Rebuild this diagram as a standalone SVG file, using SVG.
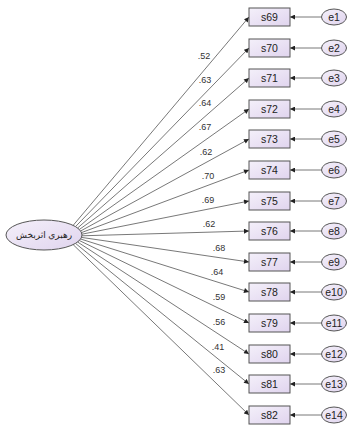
<svg xmlns="http://www.w3.org/2000/svg" width="347" height="429" viewBox="0 0 347 429">
<defs>
<linearGradient id="g" x1="0" y1="0" x2="1" y2="1">
<stop offset="0" stop-color="#f4f0fa"/>
<stop offset="1" stop-color="#e0d4ee"/>
</linearGradient>
<marker id="ah" viewBox="0 0 10 10" refX="10" refY="5" markerWidth="6" markerHeight="5" orient="auto" markerUnits="userSpaceOnUse">
<path d="M0,0 L10,5 L0,10 z" fill="#222"/>
</marker>
</defs>
<style>
.box{fill:url(#g);stroke:#555;stroke-width:1}
.ell{fill:url(#g);stroke:#555;stroke-width:1}
.t{font-family:"Liberation Sans",Arial,sans-serif;font-size:10.5px;fill:#222;text-anchor:middle}
.lt{font-family:"Liberation Sans","DejaVu Sans",Arial,sans-serif;font-size:9px;fill:#222;text-anchor:middle}
.c{font-family:"Liberation Sans",Arial,sans-serif;font-size:9px;fill:#333;text-anchor:middle}
.ln{stroke:#555;stroke-width:0.8;fill:none;marker-end:url(#ah)}
</style>
<rect width="347" height="429" fill="#fff"/>
<g id="connectors">
<line class="ln" x1="73.1" y1="225.4" x2="249" y2="17"/>
<line class="ln" x1="75.5" y1="226.6" x2="249" y2="48"/>
<line class="ln" x1="77.6" y1="228" x2="249" y2="78"/>
<line class="ln" x1="79.3" y1="229.5" x2="249" y2="109"/>
<line class="ln" x1="80.6" y1="231" x2="249" y2="139"/>
<line class="ln" x1="81.5" y1="232.6" x2="249" y2="170"/>
<line class="ln" x1="81.9" y1="234.2" x2="249" y2="201"/>
<line class="ln" x1="81.9" y1="235.8" x2="249" y2="231"/>
<line class="ln" x1="81.5" y1="237.4" x2="249" y2="262"/>
<line class="ln" x1="80.6" y1="239" x2="249" y2="292"/>
<line class="ln" x1="79.3" y1="240.5" x2="249" y2="323"/>
<line class="ln" x1="77.6" y1="242" x2="249" y2="354"/>
<line class="ln" x1="75.5" y1="243.4" x2="249" y2="384"/>
<line class="ln" x1="73.1" y1="244.6" x2="249" y2="415"/>
<line class="ln" x1="321.5" y1="17" x2="290" y2="17"/>
<line class="ln" x1="321.5" y1="48" x2="290" y2="48"/>
<line class="ln" x1="321.5" y1="78" x2="290" y2="78"/>
<line class="ln" x1="321.5" y1="109" x2="290" y2="109"/>
<line class="ln" x1="321.5" y1="139" x2="290" y2="139"/>
<line class="ln" x1="321.5" y1="170" x2="290" y2="170"/>
<line class="ln" x1="321.5" y1="201" x2="290" y2="201"/>
<line class="ln" x1="321.5" y1="231" x2="290" y2="231"/>
<line class="ln" x1="321.5" y1="262" x2="290" y2="262"/>
<line class="ln" x1="321.5" y1="292" x2="290" y2="292"/>
<line class="ln" x1="321.5" y1="323" x2="290" y2="323"/>
<line class="ln" x1="321.5" y1="354" x2="290" y2="354"/>
<line class="ln" x1="321.5" y1="384" x2="290" y2="384"/>
<line class="ln" x1="321.5" y1="415" x2="290" y2="415"/>
<text class="c" x="204" y="59">.52</text>
<text class="c" x="205" y="83">.63</text>
<text class="c" x="205" y="106">.64</text>
<text class="c" x="205" y="130">.67</text>
<text class="c" x="206" y="155">.62</text>
<text class="c" x="208" y="179">.70</text>
<text class="c" x="208" y="203">.69</text>
<text class="c" x="209" y="227">.62</text>
<text class="c" x="219" y="251">.68</text>
<text class="c" x="217" y="275">.64</text>
<text class="c" x="219" y="300">.59</text>
<text class="c" x="219" y="325">.56</text>
<text class="c" x="218" y="350">.41</text>
<text class="c" x="219" y="373">.63</text>
</g>
<g id="latent"><ellipse class="ell" cx="44" cy="235" rx="38" ry="15"/><text class="lt" x="44" y="238">رهبري اثربخش</text></g>
<g id="s69"><rect class="box" x="249" y="8" width="41" height="18"/><text class="t" x="269.5" y="20.5">s69</text></g>
<g id="s70"><rect class="box" x="249" y="39" width="41" height="18"/><text class="t" x="269.5" y="51.5">s70</text></g>
<g id="s71"><rect class="box" x="249" y="69" width="41" height="18"/><text class="t" x="269.5" y="81.5">s71</text></g>
<g id="s72"><rect class="box" x="249" y="100" width="41" height="18"/><text class="t" x="269.5" y="112.5">s72</text></g>
<g id="s73"><rect class="box" x="249" y="130" width="41" height="18"/><text class="t" x="269.5" y="142.5">s73</text></g>
<g id="s74"><rect class="box" x="249" y="161" width="41" height="18"/><text class="t" x="269.5" y="173.5">s74</text></g>
<g id="s75"><rect class="box" x="249" y="192" width="41" height="18"/><text class="t" x="269.5" y="204.5">s75</text></g>
<g id="s76"><rect class="box" x="249" y="222" width="41" height="18"/><text class="t" x="269.5" y="234.5">s76</text></g>
<g id="s77"><rect class="box" x="249" y="253" width="41" height="18"/><text class="t" x="269.5" y="265.5">s77</text></g>
<g id="s78"><rect class="box" x="249" y="283" width="41" height="18"/><text class="t" x="269.5" y="295.5">s78</text></g>
<g id="s79"><rect class="box" x="249" y="314" width="41" height="18"/><text class="t" x="269.5" y="326.5">s79</text></g>
<g id="s80"><rect class="box" x="249" y="345" width="41" height="18"/><text class="t" x="269.5" y="357.5">s80</text></g>
<g id="s81"><rect class="box" x="249" y="375" width="41" height="18"/><text class="t" x="269.5" y="387.5">s81</text></g>
<g id="s82"><rect class="box" x="249" y="406" width="41" height="18"/><text class="t" x="269.5" y="418.5">s82</text></g>
<g id="e1"><ellipse class="ell" cx="334" cy="17" rx="12.5" ry="8"/><text class="t" x="334" y="20.5">e1</text></g>
<g id="e2"><ellipse class="ell" cx="334" cy="48" rx="12.5" ry="8"/><text class="t" x="334" y="51.5">e2</text></g>
<g id="e3"><ellipse class="ell" cx="334" cy="78" rx="12.5" ry="8"/><text class="t" x="334" y="81.5">e3</text></g>
<g id="e4"><ellipse class="ell" cx="334" cy="109" rx="12.5" ry="8"/><text class="t" x="334" y="112.5">e4</text></g>
<g id="e5"><ellipse class="ell" cx="334" cy="139" rx="12.5" ry="8"/><text class="t" x="334" y="142.5">e5</text></g>
<g id="e6"><ellipse class="ell" cx="334" cy="170" rx="12.5" ry="8"/><text class="t" x="334" y="173.5">e6</text></g>
<g id="e7"><ellipse class="ell" cx="334" cy="201" rx="12.5" ry="8"/><text class="t" x="334" y="204.5">e7</text></g>
<g id="e8"><ellipse class="ell" cx="334" cy="231" rx="12.5" ry="8"/><text class="t" x="334" y="234.5">e8</text></g>
<g id="e9"><ellipse class="ell" cx="334" cy="262" rx="12.5" ry="8"/><text class="t" x="334" y="265.5">e9</text></g>
<g id="e10"><ellipse class="ell" cx="334" cy="292" rx="12.5" ry="8"/><text class="t" x="334" y="295.5">e10</text></g>
<g id="e11"><ellipse class="ell" cx="334" cy="323" rx="12.5" ry="8"/><text class="t" x="334" y="326.5">e11</text></g>
<g id="e12"><ellipse class="ell" cx="334" cy="354" rx="12.5" ry="8"/><text class="t" x="334" y="357.5">e12</text></g>
<g id="e13"><ellipse class="ell" cx="334" cy="384" rx="12.5" ry="8"/><text class="t" x="334" y="387.5">e13</text></g>
<g id="e14"><ellipse class="ell" cx="334" cy="415" rx="12.5" ry="8"/><text class="t" x="334" y="418.5">e14</text></g>
</svg>
